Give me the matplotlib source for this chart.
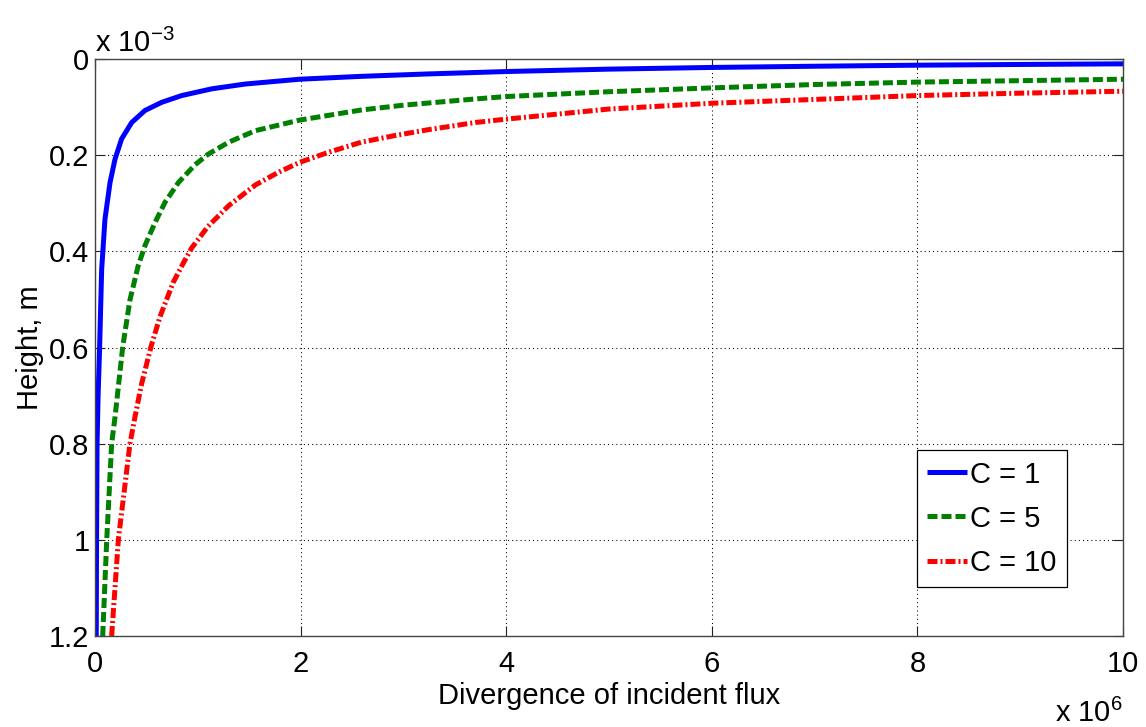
import matplotlib
matplotlib.use('Agg')
import matplotlib.pyplot as plt
import numpy as np
from matplotlib.ticker import FuncFormatter

plt.rcParams['font.family'] = ['Liberation Sans', 'DejaVu Sans']
plt.rcParams['font.size'] = 21
plt.rcParams['mathtext.fontset'] = 'custom'
plt.rcParams['mathtext.rm'] = 'Liberation Sans'
plt.rcParams['mathtext.it'] = 'Liberation Sans:italic'

# axis multipliers (MATLAB style "x 10^n" labels)
FLUX_SCALE = 1e6
HEIGHT_SCALE = 1e-3

series_labels = ['C = 1', 'C = 5', 'C = 10']

# flux in units of 1e6, height in units of 1e-3 m
flux_c1 = [0.012, 0.015, 0.020, 0.030, 0.045, 0.057, 0.065, 0.097, 0.146, 0.195,
           0.259, 0.357, 0.486, 0.649, 0.843, 1.135, 1.460, 1.990, 2.590, 3.240,
           3.700, 4.000, 5.000, 6.000, 7.000, 8.000, 9.000, 10.00]
height_c1 = [1.200, 1.000, 0.800, 0.700, 0.600, 0.500, 0.437, 0.333, 0.257, 0.208,
             0.166, 0.132, 0.107, 0.090, 0.076, 0.062, 0.052, 0.042, 0.036, 0.031,
             0.028, 0.026, 0.021, 0.0175, 0.015, 0.0128, 0.0113, 0.010]

flux_c5 = [0.075, 0.114, 0.162, 0.195, 0.270, 0.340, 0.420, 0.486, 0.584, 0.681,
           0.811, 0.973, 1.100, 1.300, 1.560, 1.990, 2.590, 3.000, 3.700, 4.000,
           5.000, 6.000, 7.000, 8.000, 9.000, 10.00]
height_c5 = [1.200, 1.000, 0.800, 0.744, 0.598, 0.501, 0.430, 0.388, 0.340, 0.298,
             0.257, 0.220, 0.198, 0.173, 0.149, 0.127, 0.106, 0.096, 0.083, 0.078,
             0.068, 0.060, 0.053, 0.048, 0.045, 0.042]

flux_c10 = [0.162, 0.227, 0.340, 0.389, 0.454, 0.545, 0.632, 0.760, 0.860, 0.940,
            1.100, 1.300, 1.560, 1.780, 1.990, 2.270, 2.590, 2.920, 3.240, 3.700,
            4.000, 5.000, 6.000, 7.000, 8.000, 9.000, 10.00]
height_c10 = [1.200, 1.000, 0.800, 0.744, 0.675, 0.598, 0.536, 0.465, 0.424, 0.393,
              0.348, 0.305, 0.262, 0.236, 0.215, 0.194, 0.173, 0.159, 0.147, 0.132,
              0.125, 0.104, 0.092, 0.084, 0.076, 0.071, 0.067]

x_ticks = [0, 2, 4, 6, 8, 10]
y_ticks = [0, 0.2, 0.4, 0.6, 0.8, 1.0, 1.2]

fig = plt.figure(figsize=(11.46, 7.27), dpi=100)
ax = fig.add_axes([0.0829, 0.1252, 0.8971, 0.7936])

lw = 3.6
ax.plot(np.array(flux_c1) * FLUX_SCALE, np.array(height_c1) * HEIGHT_SCALE,
        color=(0, 0, 1), lw=lw, solid_capstyle='butt', solid_joinstyle='round',
        label=series_labels[0])
ax.plot(np.array(flux_c5) * FLUX_SCALE, np.array(height_c5) * HEIGHT_SCALE,
        color=(0, 0.5, 0), lw=lw, dashes=(2.0, 0.8), dash_capstyle='butt',
        label=series_labels[1])
ax.plot(np.array(flux_c10) * FLUX_SCALE, np.array(height_c10) * HEIGHT_SCALE,
        color=(1, 0, 0), lw=lw, dashes=(2.0, 0.6, 0.4, 0.6), dash_capstyle='butt',
        label=series_labels[2])

ax.set_xlim(0, 10 * FLUX_SCALE)
ax.set_ylim(1.2 * HEIGHT_SCALE, 0)
ax.set_xticks([t * FLUX_SCALE for t in x_ticks])
ax.set_yticks([t * HEIGHT_SCALE for t in y_ticks])
ax.xaxis.set_major_formatter(FuncFormatter(lambda v, p: f"{v / FLUX_SCALE:g}"))
ax.yaxis.set_major_formatter(FuncFormatter(lambda v, p: f"{v / HEIGHT_SCALE:g}"))

ax.grid(True, color='black', linestyle=(0, (1, 3)), linewidth=0.75)
ax.set_axisbelow(True)
ax.tick_params(direction='in', length=7, width=0.8, top=True, right=True,
               color='#222222')
ax.tick_params(axis='x', pad=10)
ax.tick_params(axis='y', pad=4)
for sp in ax.spines.values():
    sp.set_color('#444444')
    sp.set_linewidth(1.0)

ax.set_xlabel('Divergence of incident flux', labelpad=3)
ax.set_ylabel('Height, m', labelpad=4)

ax.annotate(r'x 10$^{-3}$', xy=(0, 1), xycoords='axes fraction',
            xytext=(0, 5), textcoords='offset points', ha='left', va='baseline')
ax.annotate(r'x 10$^{6}$', xy=(1, 0), xycoords='axes fraction',
            xytext=(0, -62), textcoords='offset points', ha='right', va='baseline')

leg = ax.legend(loc='lower right', bbox_to_anchor=(0.945, 0.085), frameon=True,
                fancybox=False, edgecolor='black', framealpha=1,
                handlelength=1.37, handletextpad=0.1, labelspacing=0.55,
                borderpad=0.35, borderaxespad=0)
leg.get_frame().set_linewidth(0.9)

fig.savefig('out.png', dpi=100)
